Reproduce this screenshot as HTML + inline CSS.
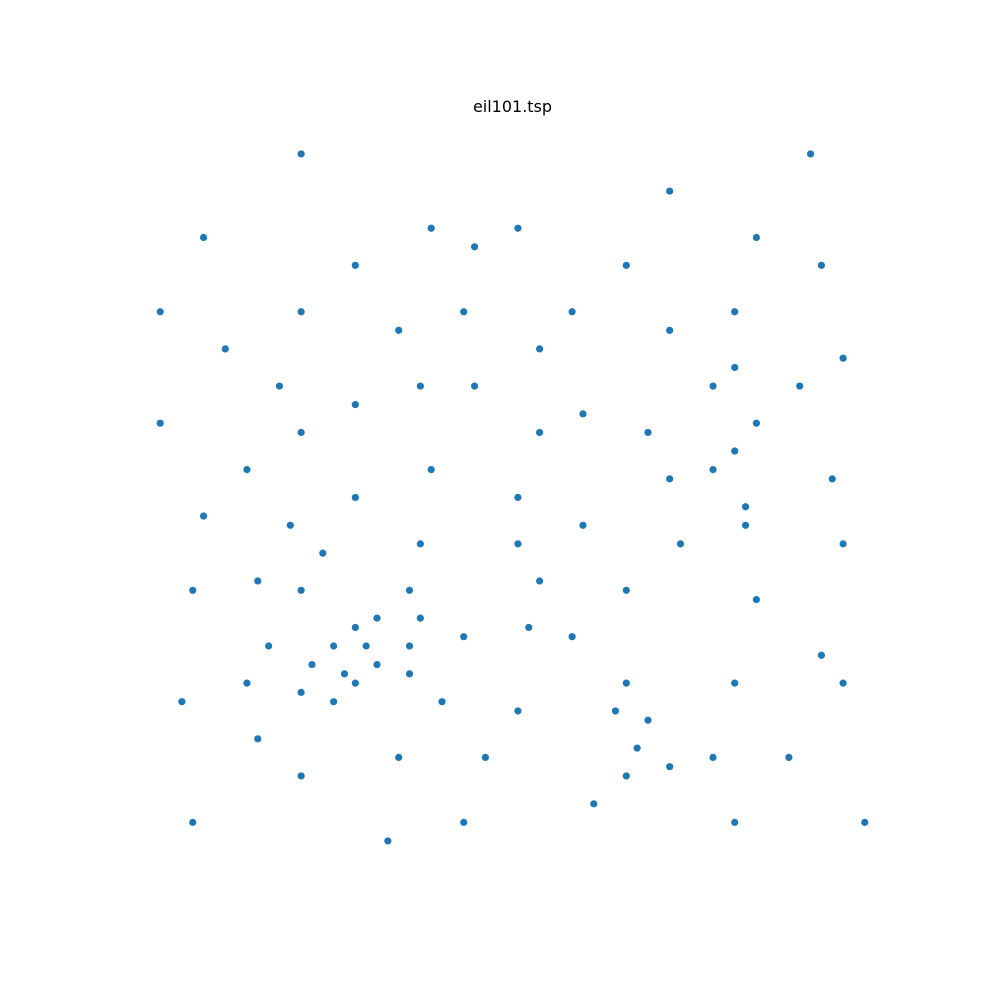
<!DOCTYPE html>
<html>
<head>
<meta charset="utf-8">
<style>
html,body{margin:0;padding:0;background:#fff;}
svg{display:block;}
</style>
</head>
<body>
<svg id="chart" width="1000" height="1000" viewBox="0 0 1000 1000" xmlns="http://www.w3.org/2000/svg">
<rect width="1000" height="1000" fill="#fff"/>
<text x="512.5" y="112" text-anchor="middle" font-family="'DejaVu Sans', 'Liberation Sans', sans-serif" font-size="16" fill="#000">eil101.tsp</text>
<g id="points"></g>
</svg>
<script>
const xs = [41,35,55,55,15,25,20,10,55,30,20,50,30,15,30,10,5,20,15,45,45,45,55,65,65,45,35,41,64,40,31,35,53,65,63,2,20,5,60,40,42,24,23,11,6,2,8,13,6,47,49,27,37,57,63,53,32,36,21,17,12,24,27,15,62,49,67,56,37,37,57,47,44,46,49,49,53,61,57,56,55,15,14,11,16,4,28,26,26,31,15,22,18,26,25,22,25,19,20,18,35];
const ys = [49,17,45,20,30,30,50,43,60,60,65,35,25,10,5,20,30,40,60,65,20,10,5,35,20,30,40,37,42,60,52,69,52,55,65,60,20,5,12,25,7,12,3,14,38,48,56,52,68,47,58,43,31,29,23,12,12,26,24,34,24,58,69,77,77,73,5,39,47,56,68,16,17,13,11,42,43,52,48,37,54,47,37,31,22,18,18,52,35,67,19,22,24,27,24,27,21,21,26,18,35];

const axL = 125, axR = 900, axT = 119.6, axB = 875.3;
const xmin = Math.min(...xs), xmax = Math.max(...xs);
const ymin = Math.min(...ys), ymax = Math.max(...ys);
const xpad = (xmax - xmin) * 0.05, ypad = (ymax - ymin) * 0.05;
function sx(v){ return axL + (v - (xmin - xpad)) / ((xmax + xpad) - (xmin - xpad)) * (axR - axL); }
function sy(v){ return axB - (v - (ymin - ypad)) / ((ymax + ypad) - (ymin - ypad)) * (axB - axT); }

const g = document.getElementById('points');
const NS = 'http://www.w3.org/2000/svg';
for (let i = 0; i < xs.length; i++) {
  const c = document.createElementNS(NS, 'circle');
  c.setAttribute('cx', sx(xs[i]));
  c.setAttribute('cy', sy(ys[i]));
  c.setAttribute('r', 3.6);
  c.setAttribute('fill', '#1f77b4');
  
  
  g.appendChild(c);
}
</script>
</body>
</html>
